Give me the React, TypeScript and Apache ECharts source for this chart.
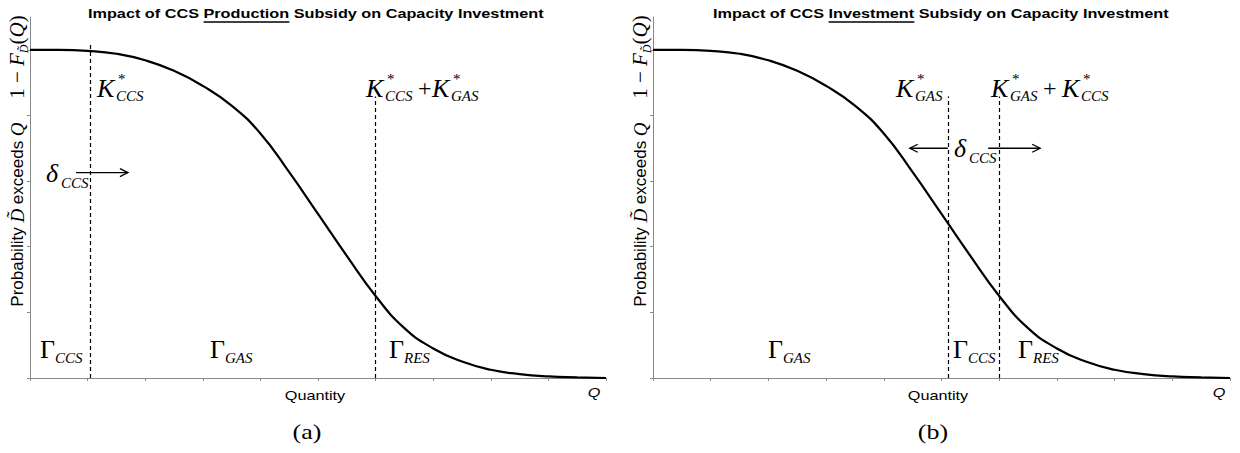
import React, { useEffect, useRef } from "react";
import * as echarts from "echarts";

// ---- data ----
const quantityMin = 0;
const quantityMax = 10;
const curveQ = [0, 0.5, 1, 1.5, 2, 2.5, 3, 3.5, 4, 4.5, 5, 5.5, 6, 6.5, 7, 7.5, 8, 8.5, 9, 9.5, 10];
const curveP = [1.0, 1.0, 0.997, 0.988, 0.968, 0.936, 0.89, 0.83, 0.745, 0.627, 0.5, 0.372, 0.25, 0.152, 0.09, 0.05, 0.025, 0.012, 0.005, 0.002, 0.0];
const probTicks = [0, 0.2, 0.4, 0.6, 0.8, 1.0];

// vertical dashed markers (quantity, height)
const dashedA = [{ q: 1.05, top: 1.023 }, { q: 6.0, top: 0.858 }];
const dashedB = [{ q: 5.11, top: 0.858 }, { q: 6.0, top: 0.858 }];
// arrows (from quantity -> to quantity at probability level)
const arrowsA = [{ from: 0.8, to: 1.7, p: 0.626 }];
const arrowsB = [
  { from: 5.11, to: 4.45, p: 0.7 },
  { from: 5.81, to: 6.71, p: 0.7 },
];

const titleA = ["Impact of CCS ", "Production", " Subsidy on Capacity Investment"];
const titleB = ["Impact of CCS ", "Investment", " Subsidy on Capacity Investment"];
const xName = "Quantity";
const captions = ["(a)", "(b)"];

const SERIF = "Liberation Serif";
const SANS = "Liberation Sans";

type F = { family: string; size: number; style?: string; weight?: string };

function txt(x: number, y: number, text: string, f: F, opts: any = {}) {
  return {
    type: "text",
    x,
    y,
    silent: true,
    scaleX: opts.scaleX ?? 1,
    style: {
      text,
      fontFamily: f.family,
      fontSize: f.size,
      fontStyle: f.style ?? "normal",
      fontWeight: f.weight ?? "normal",
      fill: "#000",
      align: opts.align ?? "left",
      verticalAlign: "middle",
    },
  };
}

const big = { family: SERIF, size: 26, style: "italic" };
const bigUp = { family: SERIF, size: 26 };
const subF = { family: SERIF, size: 15, style: "italic" };
const starF = { family: SERIF, size: 15 };

function kStar(x: number, sub: string) {
  return [
    txt(x, 88, "K", big),
    txt(x + 21, 79, "*", starF),
    txt(x + 19, 96, sub, subF),
  ];
}
function gamma(x: number, sub: string) {
  return [txt(x, 349, "Γ", bigUp), txt(x + 15, 358, sub, subF)];
}
function delta(x: number, y: number, sub: string) {
  return [txt(x, y, "δ", big), txt(x + 15, y + 10, sub, subF)];
}

function yLabel(x: number) {
  const base = { fill: "#000", lineHeight: 26, verticalAlign: "middle" };
  return {
    type: "text",
    x,
    y: 161,
    rotation: Math.PI / 2,
    silent: true,
    style: {
      text: "{a|Probability }{d|D\u0303}{a| exceeds }{d|Q}{a|     }{m|1 − }{f|F}{s|D\u0303}{m|(}{f|Q}{m|)}",
      align: "center",
      verticalAlign: "middle",
      fill: "#000",
      rich: {
        a: { ...base, fontFamily: SANS, fontSize: 17 },
        d: { ...base, fontFamily: SERIF, fontSize: 19, fontStyle: "italic" },
        m: { ...base, fontFamily: SERIF, fontSize: 21 },
        f: { ...base, fontFamily: SERIF, fontSize: 21, fontStyle: "italic" },
        s: { fill: "#000", fontFamily: SERIF, fontSize: 12, fontStyle: "italic", lineHeight: 12, verticalAlign: "bottom" },
      },
    },
  };
}

function title(x: number, parts: string[], ulStart: number, ulEnd: number) {
  return [
    txt(x, 13.5, parts.join(""), { family: SANS, size: 13, weight: "bold" }, { scaleX: 1.25 }),
    {
      type: "line",
      silent: true,
      shape: { x1: ulStart, y1: 22, x2: ulEnd, y2: 22 },
      style: { stroke: "#000", lineWidth: 1.3 },
    },
  ];
}

function axisSet(gi: number) {
  return {
    x: {
      type: "value",
      gridIndex: gi,
      min: quantityMin,
      max: quantityMax,
      interval: 1,
      axisLine: { show: true, lineStyle: { color: "#888", width: 1 } },
      axisTick: { show: true, length: 3, lineStyle: { color: "#888" } },
      axisLabel: { show: false },
      splitLine: { show: false },
    },
    y: {
      type: "value",
      gridIndex: gi,
      min: 0,
      max: 1.1,
      interval: 0.2,
      axisLine: { show: true, onZero: false, lineStyle: { color: "#888", width: 1 } },
      axisTick: { show: true, length: 3, lineStyle: { color: "#888" }, customValues: probTicks },
      axisLabel: { show: false },
      splitLine: { show: false },
    },
  };
}

function curveSeries(gi: number, dashed: { q: number; top: number }[]) {
  return {
    type: "line",
    xAxisIndex: gi,
    yAxisIndex: gi,
    data: curveQ.map((q, i) => [q, curveP[i]]),
    smooth: 0.5,
    showSymbol: false,
    silent: true,
    lineStyle: { color: "#000", width: 2.2 },
    markLine: {
      silent: true,
      symbol: ["none", "none"],
      label: { show: false },
      lineStyle: { type: [4, 3], color: "#000", width: 1.2 },
      data: dashed.map((d) => [{ coord: [d.q, 0] }, { coord: [d.q, d.top] }]),
    },
  };
}

export default function App() {
  const ref = useRef<HTMLDivElement>(null);
  useEffect(() => {
    if (!ref.current) return;
    const chart = echarts.init(ref.current, null, { renderer: "svg" });
    const a0 = axisSet(0);
    const a1 = axisSet(1);
    chart.setOption({
      animation: false,
      grid: [
        { left: 30, top: 17, width: 576, height: 361 },
        { left: 653, top: 17, width: 577, height: 361 },
      ],
      xAxis: [a0.x, a1.x],
      yAxis: [a0.y, a1.y],
      series: [curveSeries(0, dashedA), curveSeries(1, dashedB)],
    });

    const arrowEls: any[] = [];
    const addArrows = (list: { from: number; to: number; p: number }[], gi: number) => {
      list.forEach((a) => {
        const p1 = chart.convertToPixel({ gridIndex: gi } as any, [a.from, a.p]) as number[];
        const p2 = chart.convertToPixel({ gridIndex: gi } as any, [a.to, a.p]) as number[];
        const dir = Math.sign(p2[0] - p1[0]);
        arrowEls.push({
          type: "line",
          silent: true,
          shape: { x1: p1[0], y1: p1[1], x2: p2[0], y2: p2[1] },
          style: { stroke: "#000", lineWidth: 1.3 },
        });
        arrowEls.push({
          type: "polyline",
          silent: true,
          shape: {
            points: [
              [p2[0] - dir * 8, p2[1] - 4],
              [p2[0], p2[1]],
              [p2[0] - dir * 8, p2[1] + 4],
            ],
          },
          style: { stroke: "#000", lineWidth: 1.3, fill: "none" },
        });
      });
    };
    addArrows(arrowsA, 0);
    addArrows(arrowsB, 1);

    const sans13 = { family: SANS, size: 13 };
    const graphics: any[] = [
      ...title(88, titleA, 203.6, 289.4),
      ...title(713, titleB, 828.6, 914.4),
      yLabel(17),
      yLabel(640),
      txt(315, 396, xName, sans13, { align: "center", scaleX: 1.25 }),
      txt(938, 396, xName, sans13, { align: "center", scaleX: 1.25 }),
      txt(594, 393, "Q", { family: SANS, size: 13, style: "italic" }, { align: "center", scaleX: 1.25 }),
      txt(1219, 393, "Q", { family: SANS, size: 13, style: "italic" }, { align: "center", scaleX: 1.25 }),
      txt(307, 432, captions[0], { family: SERIF, size: 20 }, { align: "center", scaleX: 1.3 }),
      txt(933, 432, captions[1], { family: SERIF, size: 20 }, { align: "center", scaleX: 1.3 }),
      // chart (a) annotations
      ...kStar(97, "CCS"),
      ...kStar(366, "CCS"),
      txt(418, 88, "+", { family: SERIF, size: 24 }),
      ...kStar(432, "GAS"),
      ...delta(46, 173, "CCS"),
      ...gamma(40, "CCS"),
      ...gamma(210, "GAS"),
      ...gamma(389, "RES"),
      // chart (b) annotations
      ...kStar(896, "GAS"),
      ...kStar(991, "GAS"),
      txt(1043, 88, "+", { family: SERIF, size: 24 }),
      ...kStar(1062, "CCS"),
      ...delta(954, 148, "CCS"),
      ...gamma(768, "GAS"),
      ...gamma(953, "CCS"),
      ...gamma(1018, "RES"),
      ...arrowEls,
    ];
    chart.setOption({ graphic: graphics });
    return () => chart.dispose();
  }, []);
  return (
    <div
      ref={ref}
      style={{ position: "absolute", left: 0, top: 0, width: 1240, height: 453, background: "#fff" }}
    />
  );
}
